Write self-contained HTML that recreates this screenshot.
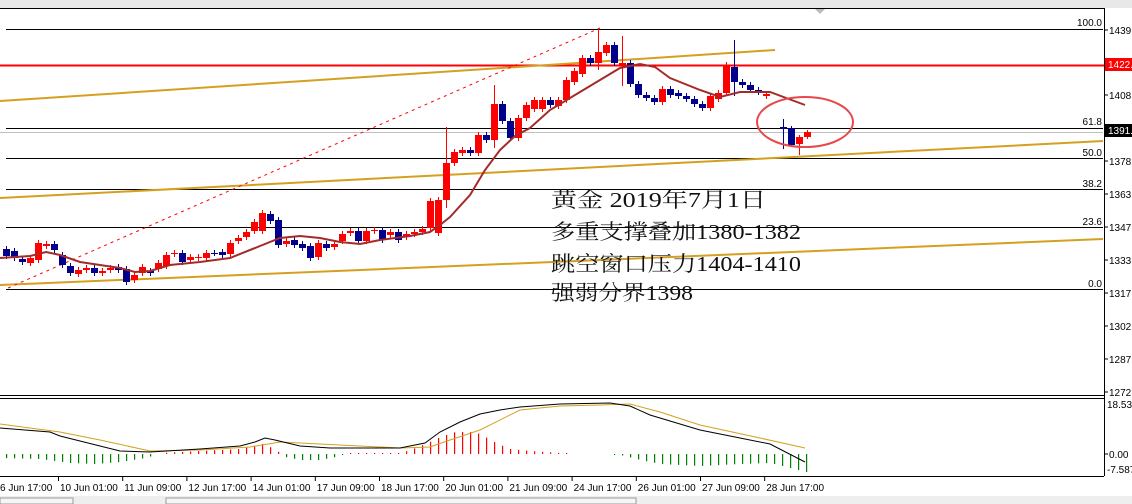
<!DOCTYPE html>
<html><head><meta charset="utf-8"><style>
html,body{margin:0;padding:0;background:#fff;width:1132px;height:504px;overflow:hidden}
svg{display:block}
</style></head><body>
<svg id="s" width="1132" height="504" xmlns="http://www.w3.org/2000/svg" font-family="Liberation Sans, sans-serif">
<rect x="0" y="0" width="1132" height="504" fill="#fff"/>
<rect x="0" y="0" width="1132" height="8" fill="#e8e8e8"/>
<polygon points="815,9 825,9 820,14" fill="#bbb"/>
<line x1="0" y1="8.5" x2="1104" y2="8.5" stroke="#000"/>
<line x1="1104.5" y1="8" x2="1104.5" y2="476" stroke="#000"/>
<line x1="0" y1="395.5" x2="1104" y2="395.5" stroke="#000"/>
<line x1="0" y1="398.5" x2="1104" y2="398.5" stroke="#000"/>
<line x1="0" y1="476.5" x2="1104" y2="476.5" stroke="#000"/>
<g stroke="#000" stroke-width="1">
<line x1="6" y1="29.5" x2="1103" y2="29.5"/>
<line x1="6" y1="128.5" x2="1103" y2="128.5"/>
<line x1="6" y1="158.5" x2="1103" y2="158.5"/>
<line x1="6" y1="189.5" x2="1103" y2="189.5"/>
<line x1="6" y1="227.5" x2="1103" y2="227.5"/>
<line x1="6" y1="289.5" x2="1103" y2="289.5"/>
</g>
<line x1="0" y1="132.5" x2="1103" y2="132.5" stroke="#c0c0c0"/>
<g font-size="10" fill="#000" text-anchor="end">
<text x="1102" y="26">100.0</text><text x="1102" y="125">61.8</text><text x="1102" y="156">50.0</text>
<text x="1102" y="187">38.2</text><text x="1102" y="225">23.6</text><text x="1102" y="287">0.0</text>
</g>
<line x1="0" y1="65.5" x2="1104" y2="65.5" stroke="#f00" stroke-width="2"/>
<g stroke="#d4a020" stroke-width="2">
<line x1="0" y1="101" x2="775" y2="50"/>
<line x1="0" y1="198" x2="1103" y2="141"/>
<line x1="0" y1="285" x2="1103" y2="239"/>
</g>
<line x1="8" y1="288" x2="600" y2="28" stroke="#f00" stroke-dasharray="3,4"/>
<g id="candles"></g>
<polyline id="ma" fill="none" stroke="#a52a2a" stroke-width="2" points="0,258 30,256 46,252 60,255 80,262 100,265 120,268 135,272 150,271 170,265 200,262 230,258 260,246 280,238 300,236 320,238 340,242 360,244 380,240 410,236 430,232 440,225 450,217 470,195 485,170 500,150 515,136 530,128 550,110 575,95 600,80 620,68 640,64 655,67 670,78 700,90 720,97 740,92 770,92 805,105"/>
<ellipse cx="805" cy="122" rx="48" ry="25" fill="none" stroke="#e8484a" stroke-width="2"/>
<g font-family="Liberation Serif, Noto Serif CJK SC, serif" font-size="21" fill="#111" lengthAdjust="spacingAndGlyphs">
<text x="551" y="207" textLength="215" lengthAdjust="spacingAndGlyphs">黄金  2019年7月1日</text>
<text x="551" y="239" textLength="250" lengthAdjust="spacingAndGlyphs">多重支撑叠加1380-1382</text>
<text x="551" y="271" textLength="250" lengthAdjust="spacingAndGlyphs">跳空窗口压力1404-1410</text>
<text x="551" y="300" textLength="142" lengthAdjust="spacingAndGlyphs">强弱分界1398</text>
</g>
<g font-size="10" fill="#000">
<text x="1109" y="34">1439.</text><text x="1109" y="99">1408.</text><text x="1109" y="165">1378.</text>
<text x="1109" y="198">1363.</text><text x="1109" y="231">1347.</text><text x="1109" y="264">1333.</text>
<text x="1109" y="297">1317.</text><text x="1109" y="330">1302.</text><text x="1109" y="363">1287.</text>
<text x="1109" y="396">1272.</text>
<text x="1107" y="408">18.53</text><text x="1109" y="458">0.00</text><text x="1107" y="473">-7.587</text>
</g>
<g stroke="#000"><line x1="1104" y1="30" x2="1108" y2="30"/><line x1="1104" y1="95" x2="1108" y2="95"/><line x1="1104" y1="161" x2="1108" y2="161"/><line x1="1104" y1="194" x2="1108" y2="194"/><line x1="1104" y1="227" x2="1108" y2="227"/><line x1="1104" y1="260" x2="1108" y2="260"/><line x1="1104" y1="293" x2="1108" y2="293"/><line x1="1104" y1="326" x2="1108" y2="326"/><line x1="1104" y1="359" x2="1108" y2="359"/><line x1="1104" y1="392" x2="1108" y2="392"/><line x1="1104" y1="454" x2="1108" y2="454"/></g>
<rect x="1105" y="58" width="27" height="13" fill="#f00"/><text x="1108" y="68" font-size="10" fill="#fff">1422.</text>
<rect x="1105" y="124" width="27" height="13" fill="#000"/><text x="1108" y="134" font-size="10" fill="#fff">1391.</text>
<g id="hist"></g>
<polyline fill="none" stroke="#d4a020" stroke-width="1" points="0,424 60,432 100,440 150,451 200,450 250,447 280,442 320,444 400,448 430,447 450,440 480,430 520,410 560,406 600,405 630,404 660,412 700,425 760,438 805,448"/>
<polyline fill="none" stroke="#000" stroke-width="1" points="0,428 50,432 60,436 80,441 120,451 150,452 200,449 240,446 255,442 265,438 275,440 300,446 330,448 400,448 425,443 440,432 460,422 480,414 500,410 520,407 560,404 610,403 630,406 650,415 700,430 740,438 770,444 805,462"/>
<g font-size="10" fill="#000" id="time"></g>
<rect x="0" y="496" width="1132" height="8" fill="#eee"/>
<rect x="0" y="498" width="73" height="6" fill="#f6f6f6" stroke="#999"/>
<rect x="166" y="498" width="470" height="6" fill="#f6f6f6" stroke="#999"/>
</svg>
<script>
var ns="http://www.w3.org/2000/svg";
function el(t,a,p){var e=document.createElementNS(ns,t);for(var k in a)e.setAttribute(k,a[k]);p.appendChild(e);return e;}
var C=[[249,256],[251,258],[259,262],[263,258],[260,243],[246,244],[244,250],[255,265],[266,273],[274,270],[270,268],[268,273],[273,271],[270,268],[267,270],[269,282],[280,275],[273,267],[271,273],[269,263],[266,255],[254,253],[253,262],[260,257],[258,257],[258,253],[253,253],[252,255],[254,243],[241,238],[237,232],[231,222],[231,213],[214,221],[220,245],[244,241],[240,245],[244,248],[246,258],[257,243],[244,248],[247,244],[241,234],[233,231],[231,241],[241,231],[231,230],[230,240],[235,232],[232,240],[237,234],[234,232],[232,229],[228,201],[233,200],[200,163],[163,152],[153,150],[150,153],[153,135],[135,140],[140,104],[104,121],[121,138],[138,118],[118,105],[109,100],[109,100],[100,105],[106,100],[100,80],[82,71],[74,58],[58,63],[63,52],[53,45],[45,63],[65,63],[63,84],[84,95],[95,98],[98,102],[102,89],[89,95],[93,96],[96,99],[99,104],[104,108],[108,96],[99,93],[93,65],[67,82],[82,85],[85,90],[90,92],[96,94]];
var g=document.getElementById("candles");
var big={55:[127,208],61:[85,148],74:[28,70],77:[36,86],91:[40,96]};
C.forEach(function(c,i){var x=6+i*8;var o=c[0],cl=c[1];var up=cl<o;var col=up?"#f00":"#00008b";
var hi=Math.min(o,cl)-3,lo=Math.max(o,cl)+3;if(big[i]){hi=big[i][0];lo=big[i][1];}
el("line",{x1:x+.5,y1:hi,x2:x+.5,y2:lo,stroke:col},g);
var t=Math.min(o,cl),h=Math.max(1,Math.abs(o-cl));el("rect",{x:x-3,y:t,width:7,height:h,fill:col},g);});
[[783,127,129,119,149,"#00008b"],[791,128,145,126,147,"#00008b"],[799,144,137,135,155,"#f00"],[807,137,132,130,139,"#f00"]].forEach(function(c){
el("line",{x1:c[0]+.5,y1:c[3],x2:c[0]+.5,y2:c[4],stroke:c[5]},g);el("rect",{x:c[0]-3,y:Math.min(c[1],c[2]),width:7,height:Math.abs(c[1]-c[2]),fill:c[5]},g);});
function interp(pts,x){for(var i=0;i<pts.length-1;i++){if(x>=pts[i][0]&&x<=pts[i+1][0]){var t=(x-pts[i][0])/(pts[i+1][0]-pts[i][0]);return pts[i][1]+t*(pts[i+1][1]-pts[i][1]);}}return pts[pts.length-1][1];}
// histogram: value >0 red (up), <0 green (down)
var H=[[0,-4],[40,-5],[70,-9],[95,-10],[120,-8],[145,-4],[155,-1],[160,1],[200,3],[240,5],[262,10],[272,6],[280,1],[285,-3],[300,-6],[320,-6],[335,-3],[345,0],[355,1],[400,1],[410,4],[425,10],[440,17],[455,22],[470,22],[480,20],[490,14],[500,9],[510,5],[530,3],[545,2],[560,1],[580,0],[600,0],[620,-1],[640,-6],[660,-10],[700,-12],[740,-10],[770,-9],[790,-14],[806,-18]];
var hg=document.getElementById("hist");
for(var x=6;x<=806;x+=8){var v=interp(H,x);if(Math.abs(v)<0.5)continue;var h=Math.max(1,Math.abs(v));
if(v>0)el("rect",{x:x,y:454-h,width:1.2,height:h,fill:"#f00"},hg);else el("rect",{x:x,y:454,width:1.2,height:h,fill:"#008000"},hg);}
var tg=document.getElementById("time");
var L=["6 Jun 17:00","10 Jun 01:00","11 Jun 09:00","12 Jun 17:00","14 Jun 01:00","17 Jun 09:00","18 Jun 17:00","20 Jun 01:00","21 Jun 09:00","24 Jun 17:00","26 Jun 01:00","27 Jun 09:00","28 Jun 17:00"];
L.forEach(function(s,i){var x=i==0?-2:58+(i-1)*64.2;var t=el("text",{x:x+2,y:491},tg);t.textContent=s;if(i>0)el("line",{x1:x+.5,y1:477,x2:x+.5,y2:481,stroke:"#000"},tg);});
</script>
</body></html>
